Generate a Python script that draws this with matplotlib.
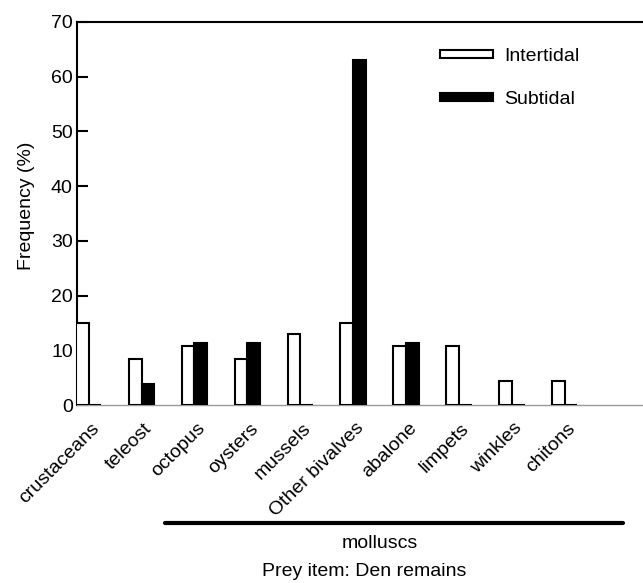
#Prey items found in den remains, intertidal vs subtidal
import numpy as np
import matplotlib
matplotlib.use('Agg')
import matplotlib.pyplot as plt
import matplotlib.transforms as mtransforms

plt.rcParams['font.family'] = ['Liberation Sans', 'DejaVu Sans']
plt.rcParams['font.size'] = 14

#Data
prey = ['crustaceans', 'teleost', 'octopus', 'oysters', 'mussels',
        'Other bivalves', 'abalone', 'limpets', 'winkles', 'chitons']
intertidal = [15.0, 8.4, 10.7, 8.4, 12.9, 15.0, 10.7, 10.7, 4.3, 4.3]
subtidal = [0.0, 3.8, 11.3, 11.3, 0.0, 63.0, 11.3, 0.0, 0.0, 0.0]

fig = plt.figure(figsize=(6.43, 5.83), dpi=100)
ax = fig.add_axes([0.1198, 0.3053, 0.8802, 0.657])

x = np.arange(len(prey))
w = 0.24
ax.bar(x - w / 2, intertidal, w, color='white', edgecolor='black',
       linewidth=1.5, label='Intertidal', zorder=3)
ax.bar(x + w / 2, subtidal, w, color='black', edgecolor='black',
       linewidth=1.5, label='Subtidal', zorder=3)

ax.set_xlim(-0.22, 10.48)
ax.set_ylim(0, 70)
ax.set_yticks(range(0, 71, 10))
ax.tick_params(axis='y', direction='in', length=8, width=1.5, pad=3,
               labelsize=14)
ax.tick_params(axis='x', length=0, pad=2, labelsize=14)
ax.set_xticks(x)
ax.set_xticklabels(prey, rotation=45, ha='right', va='center',
                   rotation_mode='anchor')
offset = mtransforms.ScaledTranslation(8 / 100, -18 / 100, fig.dpi_scale_trans)
for lab in ax.get_xticklabels():
    lab.set_transform(lab.get_transform() + offset)

ax.spines['left'].set_linewidth(1.5)
ax.spines['top'].set_linewidth(1.5)
ax.spines['right'].set_visible(False)
ax.spines['bottom'].set_color('0.6')
ax.spines['bottom'].set_linewidth(1)

ax.set_ylabel('Frequency (%)', fontsize=14)
ax.yaxis.set_label_coords(-0.074, 0.52)

ax.legend(loc='upper left', bbox_to_anchor=(440 / 643, 1 - 48 / 583),
          bbox_transform=fig.transFigure, frameon=False, fontsize=14,
          handlelength=2.75, handleheight=0.25, handletextpad=0.55,
          labelspacing=1.35, borderpad=0, borderaxespad=0)

#molluscs bracket line under the labels
trans = mtransforms.blended_transform_factory(ax.transData, fig.transFigure)
ax.plot([1.44, 10.1], [1 - 523 / 583, 1 - 523 / 583], color='black',
        linewidth=3, solid_capstyle='round', transform=trans, clip_on=False)
fig.text(380 / 643, 1 - 544 / 583, 'molluscs', ha='center', va='center',
         fontsize=14)
fig.text(364 / 643, 1 - 571 / 583, 'Prey item: Den remains', ha='center',
         va='center', fontsize=14)

fig.savefig('out.png', dpi=100)
